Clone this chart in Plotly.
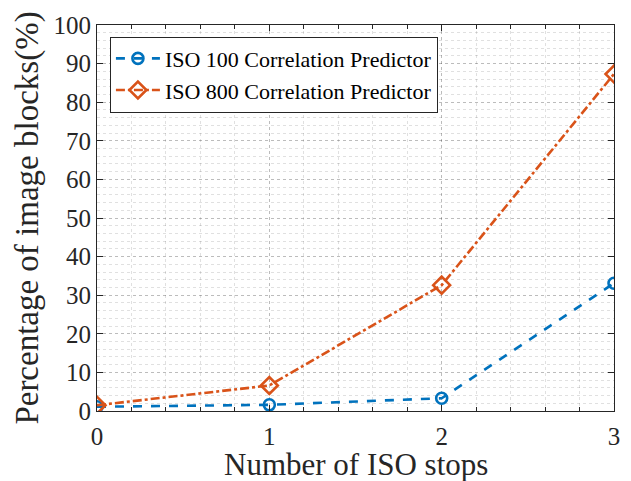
import plotly.graph_objects as go

# Number of ISO stops between the reference and test exposures
iso_stops = [0, 1, 2, 3]

# Percentage of image blocks flagged by each predictor
iso100_pct = [1.1, 1.6, 3.3, 33.1]
iso800_pct = [1.5, 6.6, 32.6, 87.3]

x_ticks = [0, 1, 2, 3]
y_ticks = list(range(0, 101, 10))

series_names = ["ISO 100 Correlation Predictor", "ISO 800 Correlation Predictor"]
x_title = "Number of ISO stops"
y_title = "Percentage of image blocks(%)"

BLUE = "#0072BD"
ORANGE = "#D95319"
AXIS = "#262626"
FONT = "Liberation Serif, Times New Roman, serif"

fig = go.Figure()

fig.add_trace(go.Scatter(
    x=iso_stops, y=iso100_pct, name=series_names[0],
    mode="lines+markers",
    line=dict(color=BLUE, width=2.6, dash="dash"),
    marker=dict(symbol="circle-open", size=11, color=BLUE, line=dict(width=2.6, color=BLUE)),
))
fig.add_trace(go.Scatter(
    x=iso_stops, y=iso800_pct, name=series_names[1],
    mode="lines+markers",
    line=dict(color=ORANGE, width=2.6, dash="dashdot"),
    marker=dict(symbol="diamond-open", size=13, color=ORANGE, line=dict(width=2.6, color=ORANGE)),
))

axis_common = dict(
    showline=True, linecolor=AXIS, linewidth=1, mirror="ticks",
    ticks="inside", ticklen=6, tickcolor=AXIS, tickwidth=1,
    showgrid=True, gridcolor="rgba(0,0,0,0.16)", griddash="dot", gridwidth=1,
    zeroline=False, automargin=False,
    tickfont=dict(family=FONT, size=25, color=AXIS),
)

fig.update_xaxes(
    **axis_common,
    range=[0, 3], tickvals=x_ticks, ticktext=[str(v) for v in x_ticks],
    ticklabelstandoff=3,
    minor=dict(dtick=0.2, ticks="inside", ticklen=4, tickcolor=AXIS,
               showgrid=True, gridcolor="rgba(0,0,0,0.12)", griddash="dot"),
)
fig.update_yaxes(
    **axis_common,
    range=[0, 100], tickvals=y_ticks, ticktext=[str(v) for v in y_ticks],
    minor=dict(dtick=2, ticks="", showgrid=True,
               gridcolor="rgba(0,0,0,0.12)", griddash="dot"),
    title=dict(text=y_title, font=dict(family=FONT, size=33, color=AXIS), standoff=4),
)

# x-axis title set below the tick labels
fig.add_annotation(
    text=x_title, xref="paper", yref="paper", x=0.5, y=0,
    xanchor="center", yanchor="middle", yshift=-53, showarrow=False,
    font=dict(family=FONT, size=31, color=AXIS),
)

fig.update_layout(
    width=631, height=481,
    margin=dict(l=97, r=17, t=25, b=70),
    paper_bgcolor="white", plot_bgcolor="white",
    showlegend=True,
    legend=dict(
        x=0.025, y=0.97, xanchor="left", yanchor="top",
        bgcolor="white", bordercolor=AXIS, borderwidth=1,
        font=dict(family=FONT, size=22, color="black"),
        itemwidth=44, tracegroupgap=0,
    ),
)

fig.write_html("out.html")
